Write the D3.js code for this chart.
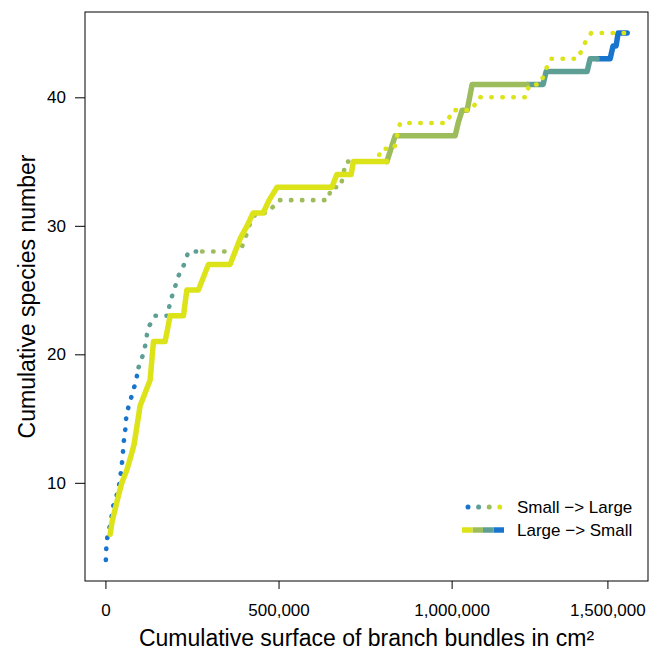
<!DOCTYPE html>
<html>
<head>
<meta charset="utf-8">
<script src="https://cdn.jsdelivr.net/npm/d3@7"></script>
<style>
  body { margin: 0; background: #fff; }
  svg { font-family: "Liberation Sans", Arial, sans-serif; }
  .axis text { font-size: 17px; fill: #000; }
  .axis line { stroke: #000; }
</style>
</head>
<body>
<div id="chart"></div>
<script>
/* cumulative surface (cm²) and cumulative species, small bundles first */
var smallFirstSurface = [1200, 2600, 6400, 16500, 20200, 32400, 41000, 45400, 49700, 52000,
	56900, 59800, 67000, 78600, 88700, 95900, 108900, 117600, 121900, 143600,
	182000, 185400, 198500, 209100, 227300, 239700, 279300, 389100, 403500, 415100,
	435300, 470000, 498900, 643300, 652000, 679400, 686600, 695300, 741500, 784800,
	796400, 833900, 842600, 851200, 987000, 1001500, 1059200, 1076600, 1215200, 1223900,
	1255600, 1284500, 1365400, 1379800, 1402900, 1504000];
var smallFirstSpecies = [4, 5, 6, 7, 8, 9, 10, 11, 12, 13,
	14, 15, 16, 17, 18, 19, 20, 21, 22, 23,
	23, 24, 25, 26, 27, 28, 28, 28, 29, 30,
	31, 31, 32, 32, 33, 33, 34, 35, 35, 35,
	36, 36, 37, 38, 38, 39, 39, 40, 40, 41,
	41, 43, 43, 44, 45, 45];

/* same, large bundles first */
var largeFirstSurface = [13600, 19400, 37600, 47400, 61800, 72800, 82900, 100200, 129100, 138700,
	172400, 186900, 225300, 235100, 268600, 297500, 360200, 389100, 409300, 426600,
	455500, 472800, 495900, 654000, 668400, 709700, 716300, 812800, 836800, 1010100,
	1018800, 1030400, 1044800, 1059200, 1218100, 1264300, 1272900, 1391300, 1400000, 1420200,
	1457800, 1466400, 1475100, 1480900, 1507000];
var largeFirstSpecies = [6, 7, 9, 10, 11, 12, 13, 16, 18, 21,
	21, 23, 23, 25, 25, 27, 27, 29, 30, 31,
	31, 32, 33, 33, 34, 34, 35, 35, 37, 37,
	38, 39, 39, 41, 41, 41, 42, 42, 43, 43,
	43, 44, 44, 45, 45];

/* bundle size classes (surface where the colour changes along each curve) */
var smallFirstBreaks = [92000, 279000, 741000];
var largeFirstBreaks = [800000, 1218000, 1420000];

var xTickValues = [0, 500000, 1000000, 1450000];
var xTickLabels = ["0", "500,000", "1,000,000", "1,500,000"];
var yTickValues = [10, 20, 30, 40];

var legendLabels = ["Small \u2212> Large", "Large \u2212> Small"];

/* smallest size class first */
var classColors = ["#1874CD", "#5D9E95", "#9DBC5B", "#DCE319"];


var width = 657, height = 651;
var plotLeft = 85, plotRight = 648, plotTop = 12, plotBottom = 581;

var svg = d3.select("#chart").append("svg").attr("width", width).attr("height", height);

var smallFirst = smallFirstSurface.map((d, i) => ({x: d, y: smallFirstSpecies[i]}));
var largeFirst = largeFirstSurface.map((d, i) => ({x: d, y: largeFirstSpecies[i]}));
var all = smallFirst.concat(largeFirst);

// R style 4% padding
var xExt = d3.extent(all, d => d.x), yExt = d3.extent(all, d => d.y);
var xPad = (xExt[1] - xExt[0]) * 0.04, yPad = (yExt[1] - yExt[0]) * 0.04;

var xScale = d3.scaleLinear().domain([xExt[0] - xPad, xExt[1] + xPad]).range([plotLeft, plotRight]);
var yScale = d3.scaleLinear().domain([yExt[0] - yPad, yExt[1] + yPad]).range([plotBottom, plotTop]);

var line = d3.line().x(d => xScale(d.x)).y(d => yScale(d.y));

// split a curve into runs of the same size class
function runs(points, classOf) {
	var out = [];
	var cur = null;
	for (var i = 0; i < points.length - 1; i++) {
		var c = classOf(points[i].x);
		if (!cur || cur.cls !== c) {
			cur = {cls: c, pts: [points[i]]};
			out.push(cur);
		}
		cur.pts.push(points[i + 1]);
	}
	return out;
}

var smallClass = d3.scaleThreshold().domain(smallFirstBreaks).range([0, 1, 2, 3]);
var largeClass = d3.scaleThreshold().domain(largeFirstBreaks).range([3, 2, 1, 0]);

var smallRuns = runs(smallFirst, smallClass);
var largeRuns = runs(largeFirst, largeClass);

var curves = svg.append("g");

for (var c = 0; c < 4; c++) {
	smallRuns.filter(r => r.cls === c).forEach(function (r) {
		curves.append("path")
			.attr("d", line(r.pts))
			.attr("fill", "none")
			.attr("stroke", classColors[c])
			.attr("stroke-width", 4.6)
			.attr("stroke-linecap", "round")
			.attr("stroke-linejoin", "round")
			.attr("stroke-dasharray", "0.4 10.6");
	});
	largeRuns.filter(r => r.cls === c).forEach(function (r) {
		curves.append("path")
			.attr("d", line(r.pts))
			.attr("fill", "none")
			.attr("stroke", classColors[c])
			.attr("stroke-width", 5.5)
			.attr("stroke-linecap", "round")
			.attr("stroke-linejoin", "round");
	});
}

/* box */
svg.append("rect")
	.attr("x", plotLeft).attr("y", plotTop)
	.attr("width", plotRight - plotLeft).attr("height", plotBottom - plotTop)
	.attr("fill", "none").attr("stroke", "#000").attr("stroke-width", 1);

var xAxis = d3.axisBottom(xScale).tickValues(xTickValues)
	.tickFormat((d, i) => xTickLabels[i]).tickSize(8).tickPadding(15);
var yAxis = d3.axisLeft(yScale).tickValues(yTickValues).tickSize(10).tickPadding(9);

svg.append("g").attr("class", "axis")
	.attr("transform", "translate(0," + plotBottom + ")")
	.call(xAxis)
	.call(g => g.select(".domain").remove());

svg.append("g").attr("class", "axis")
	.attr("transform", "translate(" + plotLeft + ",0)")
	.call(yAxis)
	.call(g => g.select(".domain").remove());

svg.selectAll(".axis").attr("font-family", null).attr("font-size", null);

/* axis titles */
svg.append("text")
	.attr("x", (plotLeft + plotRight) / 2).attr("y", 646)
	.attr("text-anchor", "middle")
	.style("font-size", "23px")
	.text("Cumulative surface of branch bundles in cm\u00B2");

svg.append("text")
	.attr("transform", "translate(35," + ((plotTop + plotBottom) / 2) + ") rotate(-90)")
	.attr("text-anchor", "middle")
	.style("font-size", "23px")
	.text("Cumulative species number");

/* legend */
var legend = svg.append("g");
var lgX = 462, lgW = 42, lgY = [507, 530];

classColors.forEach(function (col, i) {
	legend.append("circle")
		.attr("cx", lgX + 6 + i * 10.6).attr("cy", lgY[0])
		.attr("r", 2.5).attr("fill", col);
	legend.append("line")
		.attr("x1", lgX + (3 - i) * lgW / 4).attr("x2", lgX + (4 - i) * lgW / 4)
		.attr("y1", lgY[1]).attr("y2", lgY[1])
		.attr("stroke", col).attr("stroke-width", 5.5);
});

legendLabels.forEach(function (t, i) {
	legend.append("text")
		.attr("x", 517).attr("y", lgY[i]).attr("dy", "0.36em")
		.style("font-size", "17px")
		.text(t);
});
</script>
</body>
</html>
